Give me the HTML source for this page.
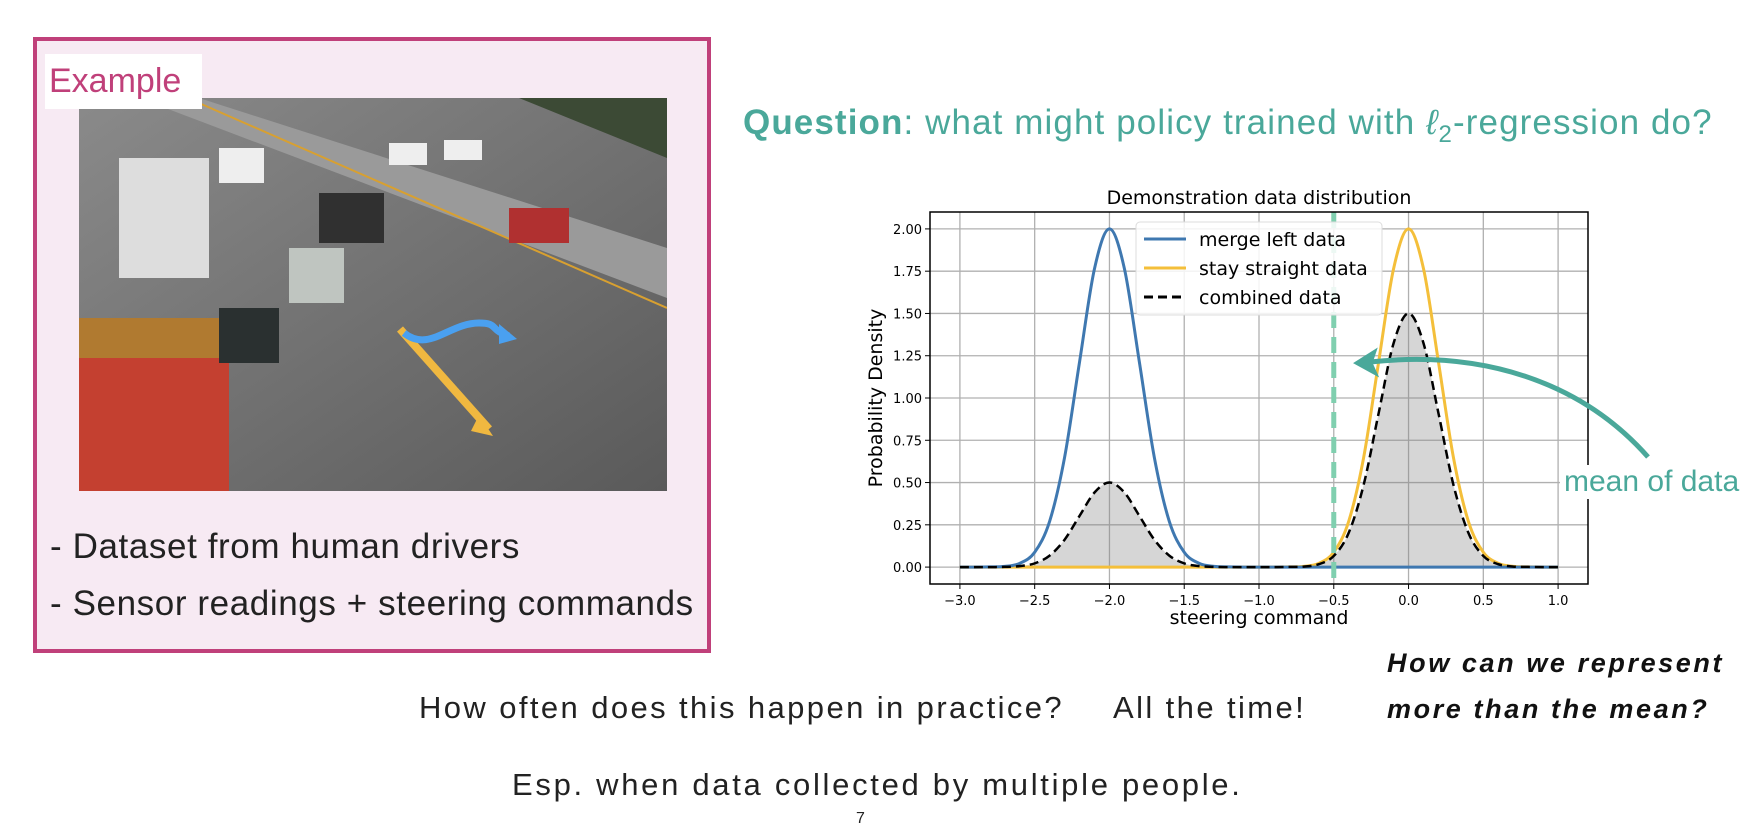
<!DOCTYPE html>
<html><head><meta charset="utf-8"><style>
body{margin:0;width:1750px;height:828px;background:#fff;position:relative;overflow:hidden;font-family:"Liberation Sans","DejaVu Sans",sans-serif}
.abs{position:absolute;white-space:nowrap}
</style></head><body>
<div class="abs" style="left:33px;top:37px;width:670px;height:608px;border:4px solid #c0407a;background:#f7eaf3"></div>
<svg class="abs" style="left:79px;top:98px" width="588" height="393">
<defs><linearGradient id="rd" x1="0" y1="0" x2="1" y2="1"><stop offset="0" stop-color="#8a8a8a"/><stop offset="1" stop-color="#5a5a5a"/></linearGradient></defs>
<rect width="588" height="393" fill="url(#rd)"/>
<polygon points="330,0 588,0 588,60 440,0" fill="#3c4a35"/>
<polygon points="120,0 588,150 588,200 60,0" fill="#9a9a9a"/>
<line x1="120" y1="5" x2="588" y2="210" stroke="#d8a030" stroke-width="2"/>
<rect x="40" y="60" width="90" height="120" fill="#ddd"/>
<rect x="0" y="230" width="150" height="163" fill="#c44030"/>
<rect x="0" y="220" width="150" height="40" fill="#b07a30"/>
<rect x="140" y="210" width="60" height="55" fill="#2a3030"/>
<rect x="210" y="150" width="55" height="55" fill="#bfc5c0"/>
<rect x="240" y="95" width="65" height="50" fill="#303030"/>
<rect x="140" y="50" width="45" height="35" fill="#eee"/>
<rect x="430" y="110" width="60" height="35" fill="#b03030"/>
<rect x="310" y="45" width="38" height="22" fill="#eee"/>
<rect x="365" y="42" width="38" height="20" fill="#eee"/>
<path d="M321,231 L410,331" stroke="#f0b840" stroke-width="8" fill="none"/>
<polygon points="400,317 414,338 392,333" fill="#f0b840"/>
<path d="M325,235 C350,255 370,225 400,225 C420,225 410,232 430,238" stroke="#4aa0f0" stroke-width="7" fill="none"/>
<polygon points="420,226 438,241 420,246" fill="#4aa0f0"/>
</svg>
<div class="abs" style="left:45px;top:54px;width:153px;height:55px;background:#fff;color:#c0407a;font-size:34px;line-height:55px;padding-left:4px">Example</div>
<div class="abs" style="left:50px;top:527px;font-size:35px;color:#222;letter-spacing:0.6px">- Dataset from human drivers</div>
<div class="abs" style="left:50px;top:584px;font-size:35px;color:#222;letter-spacing:0.6px">- Sensor readings + steering commands</div>
<div class="abs" style="left:743px;top:103px;font-size:35px;color:#4aa89a;letter-spacing:1.1px"><b>Question</b>: what might policy trained with <i>ℓ</i><sub style="font-size:24px">2</sub>-regression do?</div>

<svg class="abs" id="chart" style="left:0;top:0;font-family:'DejaVu Sans',sans-serif" width="1750" height="828"></svg>

<div class="abs" style="left:1560px;top:465px;background:#fff;font-size:30px;color:#4aa89a;padding:0 4px">mean of data</div>
<div class="abs" style="left:1387px;top:640px;font-size:27px;font-weight:bold;font-style:italic;line-height:46px;color:#111;letter-spacing:2.6px">How can we represent<br>more than the mean?</div>
<div class="abs" style="left:419px;top:690px;font-size:31px;color:#222;letter-spacing:2.4px">How often does this happen in practice?</div>
<div class="abs" style="left:1113px;top:690px;font-size:31px;color:#222;letter-spacing:2.4px">All the time!</div>
<div class="abs" style="left:512px;top:767px;font-size:31px;color:#222;letter-spacing:2.7px">Esp. when data collected by multiple people.</div>
<div class="abs" style="left:856px;top:810px;font-size:16px;color:#222">7</div>
<script>
const xs=[-3,-2.9,-2.8,-2.7,-2.6,-2.5,-2.4,-2.3,-2.2,-2.1,-2,-1.9,-1.8,-1.7,-1.6,-1.5,-1.4,-1.3,-1.2,-1.1,-1,-0.9,-0.8,-0.7,-0.6,-0.5,-0.4,-0.3,-0.2,-0.1,0,0.1,0.2,0.3,0.4,0.5,0.6,0.7,0.8,0.9,1];
const mergeLeft=[0,0,0.001,0.004,0.022,0.088,0.271,0.649,1.213,1.765,2.0,1.765,1.213,0.649,0.271,0.088,0.022,0.004,0.001,0,0,0,0,0,0,0,0,0,0,0,0,0,0,0,0,0,0,0,0,0,0];
const stayStraight=[0,0,0,0,0,0,0,0,0,0,0,0,0,0,0,0,0,0,0,0,0,0,0.001,0.004,0.022,0.088,0.271,0.649,1.213,1.765,2.0,1.765,1.213,0.649,0.271,0.088,0.022,0.004,0.001,0,0];
const combined=[0,0,0,0.001,0.006,0.022,0.068,0.162,0.303,0.441,0.5,0.441,0.303,0.162,0.068,0.022,0.006,0.001,0,0,0,0,0.001,0.003,0.017,0.066,0.203,0.487,0.910,1.324,1.5,1.324,0.910,0.487,0.203,0.066,0.017,0.003,0.001,0,0];
const xTicks=[-3,-2.5,-2,-1.5,-1,-0.5,0,0.5,1];
const xTickLabels=["−3.0","−2.5","−2.0","−1.5","−1.0","−0.5","0.0","0.5","1.0"];
const yTicks=[0,0.25,0.5,0.75,1,1.25,1.5,1.75,2];
const yTickLabels=["0.00","0.25","0.50","0.75","1.00","1.25","1.50","1.75","2.00"];
const meanValue=[-0.5];
const L=930,R=1588,T=212,B=584,xmin=-3.2,xmax=1.2,ymin=-0.1,ymax=2.1;
const X=v=>L+(v-xmin)/(xmax-xmin)*(R-L);
const Y=v=>B-(v-ymin)/(ymax-ymin)*(B-T);
const svg=document.getElementById('chart');const NS='http://www.w3.org/2000/svg';
function mk(t,a){const e=document.createElementNS(NS,t);for(const k in a)e.setAttribute(k,a[k]);svg.appendChild(e);return e;}
function path(ys){let p=[];for(let i=0;i<xs.length;i++)p.push([X(xs[i]),Y(ys[i])]);
let d='M'+p[0][0]+','+p[0][1];for(let i=0;i<p.length-1;i++){const p0=p[Math.max(0,i-1)],p1=p[i],p2=p[i+1],p3=p[Math.min(p.length-1,i+2)];
d+=` C${p1[0]+(p2[0]-p0[0])/6},${p1[1]+(p2[1]-p0[1])/6} ${p2[0]-(p3[0]-p1[0])/6},${p2[1]-(p3[1]-p1[1])/6} ${p2[0]},${p2[1]}`;}return d;}
let t=mk('text',{x:(L+R)/2,y:204,'text-anchor':'middle','font-size':19,fill:'#000'});t.textContent='Demonstration data distribution';


xTicks.forEach((v,i)=>{const g=mk('line',{x1:X(v),x2:X(v),y1:T,y2:B,stroke:'#b0b0b0','stroke-width':1.3});


mk('line',{x1:X(v),x2:X(v),y1:B,y2:B+5,stroke:'#000'});
const l=mk('text',{x:X(v),y:B+21,'text-anchor':'middle','font-size':13,fill:'#000'});l.textContent=xTickLabels[i];

});
yTicks.forEach((v,i)=>{const g=mk('line',{x1:L,x2:R,y1:Y(v),y2:Y(v),stroke:'#b0b0b0','stroke-width':1.3});


mk('line',{x1:L-5,x2:L,y1:Y(v),y2:Y(v),stroke:'#000'});
const l=mk('text',{x:L-8,y:Y(v)+5,'text-anchor':'end','font-size':13,fill:'#000'});l.textContent=yTickLabels[i];

});
const fill=mk('path',{d:path(combined)+` L${X(xs[xs.length-1])},${Y(0)} L${X(xs[0])},${Y(0)} Z`,fill:'#808080','fill-opacity':0.32});


const ys=mk('path',{d:path(stayStraight),fill:'none',stroke:'#f4bf3a','stroke-width':3});


const bl=mk('path',{d:path(mergeLeft),fill:'none',stroke:'#3f78b0','stroke-width':3});


const cb=mk('path',{d:path(combined),fill:'none',stroke:'#000','stroke-width':2.5,'stroke-dasharray':'9,5'});


const ml=mk('line',{x1:X(meanValue[0]),x2:X(meanValue[0]),y1:T,y2:B,stroke:'#80cfaf','stroke-width':5,'stroke-dasharray':'16,9'});


const fr=mk('rect',{x:L,y:T,width:R-L,height:B-T,fill:'none',stroke:'#000','stroke-width':1.5});


const xl=mk('text',{x:(L+R)/2,y:624,'text-anchor':'middle','font-size':19,fill:'#000'});xl.textContent='steering command';


const yl=mk('text',{x:0,y:0,'text-anchor':'middle','font-size':19,fill:'#000',transform:`translate(882,${(T+B)/2}) rotate(-90)`});yl.textContent='Probability Density';


// legend
const lg=mk('rect',{x:1136,y:222,width:246,height:93,rx:4,fill:'#fff','fill-opacity':0.85,stroke:'#ddd'});


[['merge left data','#3f78b0',''],['stay straight data','#f4bf3a',''],['combined data','#000','9,5']].forEach((e,i)=>{const y=239+i*29;
const ln=mk('line',{x1:1144,x2:1186,y1:y,y2:y,stroke:e[1],'stroke-width':3,'stroke-dasharray':e[2]});


const tx=mk('text',{x:1199,y:y+7,'font-size':19,fill:'#000'});tx.textContent=e[0];

});
const ar=mk('path',{d:'M1648,457 C1580,380 1480,350 1370,362',fill:'none',stroke:'#4aa89a','stroke-width':5});


const ah=mk('polygon',{points:'1356,363 1375,351 1371,363 1376,374',fill:'#4aa89a',stroke:'#4aa89a','stroke-width':3});


</script>
</body></html>
